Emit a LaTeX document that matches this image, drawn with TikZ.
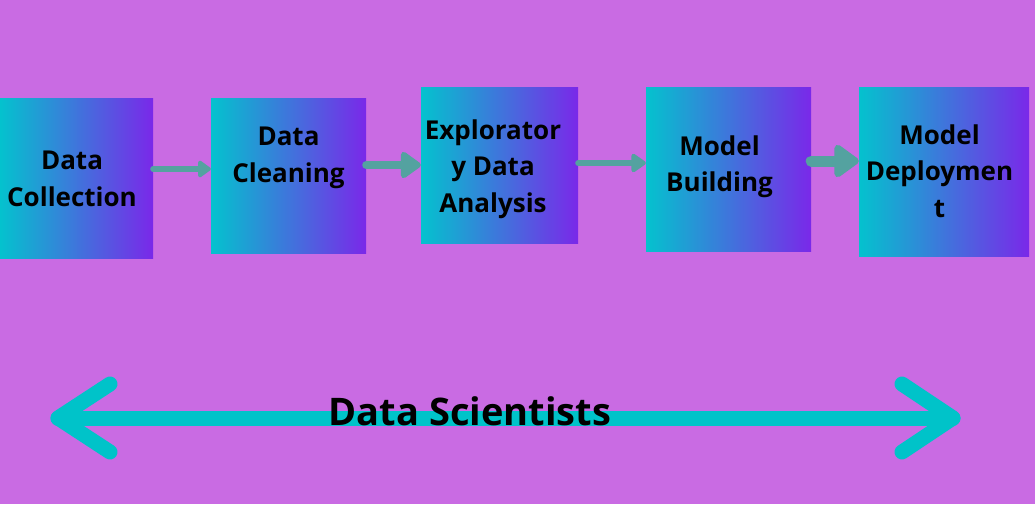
\documentclass[tikz,border=0pt]{standalone}
\usepackage{fontspec}
\newfontfamily\stagefont{Open Sans}
\usepackage{tikz}
\usetikzlibrary{calc, arrows.meta}
\usetikzlibrary{positioning}

\definecolor{bgpurple}{RGB}{201,107,227}
\definecolor{boxleft}{RGB}{4,194,206}
\definecolor{boxright}{RGB}{122,40,233}
\definecolor{flowarrow}{RGB}{84,162,160}
\definecolor{scicyan}{RGB}{0,195,201}

\begin{document}
\begin{tikzpicture}[x=1pt, y=-1pt,
    stage/.style={rectangle, inner sep=0pt, left color=boxleft, right color=boxright},
    stagetext/.style={font=\stagefont\bfseries\fontsize{26}{36.5}\selectfont, align=center, inner sep=0pt},
    flow/.style={draw=flowarrow, line cap=round},
    scibar/.style={draw=scicyan, line width=15pt, line cap=round, line join=round}
    ]
    \useasboundingbox (0,0) rectangle (1035,504);
    \fill[bgpurple] (0,0) rectangle (1035,504);

    % the five stages
    \foreach \n/\cx/\cy/\w/\h in {1/76.5/178/153/160, 2/288.5/175.5/155/155,
        3/499.5/165/157/156, 4/728.5/169/165/164, 5/944/171.5/170/169} {
        \node[stage, minimum width=\w pt, minimum height=\h pt] (b\n) at (\cx,\cy) {};
    }

    \node[stagetext] (t1) at (72,179) {Data\\Collection};
    \node[stagetext] (t2) at (288.5,158) {Data\\Cleaning};
    \node[stagetext] (t3) at (493,169) {Explorator\\y Data\\Analysis};
    \node[stagetext] (t4) at (719.5,166.5) {Model\\Building};
    \node[stagetext] (t5) at (939.5,171) {Model\\Deploymen\\t};

    % arrows from stage to stage
    \foreach \a/\b/\yy/\lw/\hl/\hw in {1/2/169/6/14/19, 2/3/165/8/22/30,
        3/4/163/6/16/21, 4/5/161/11/27/37} {
        \draw[flow, line width=\lw pt, -{Triangle[round, length=\hl pt, width=\hw pt]}]
        (b\a.east |- 0,\yy) -- (b\b.west |- 0,\yy);
    }

    % double arrow under the stages
    \coordinate (dsL) at (58,418);
    \coordinate (dsR) at (953,418);
    \draw[scibar] (dsL) -- (dsR);
    \draw[scibar] ($(dsL)+(52,-34)$) -- (dsL) -- ($(dsL)+(52,34)$);
    \draw[scibar] ($(dsR)+(-51,-34)$) -- (dsR) -- ($(dsR)+(-51,34)$);

    \node[anchor=base, inner sep=0pt, font=\stagefont\bfseries\fontsize{38}{44}\selectfont]
    (sci) at (470,425) {Data Scientists};
\end{tikzpicture}
\end{document}
